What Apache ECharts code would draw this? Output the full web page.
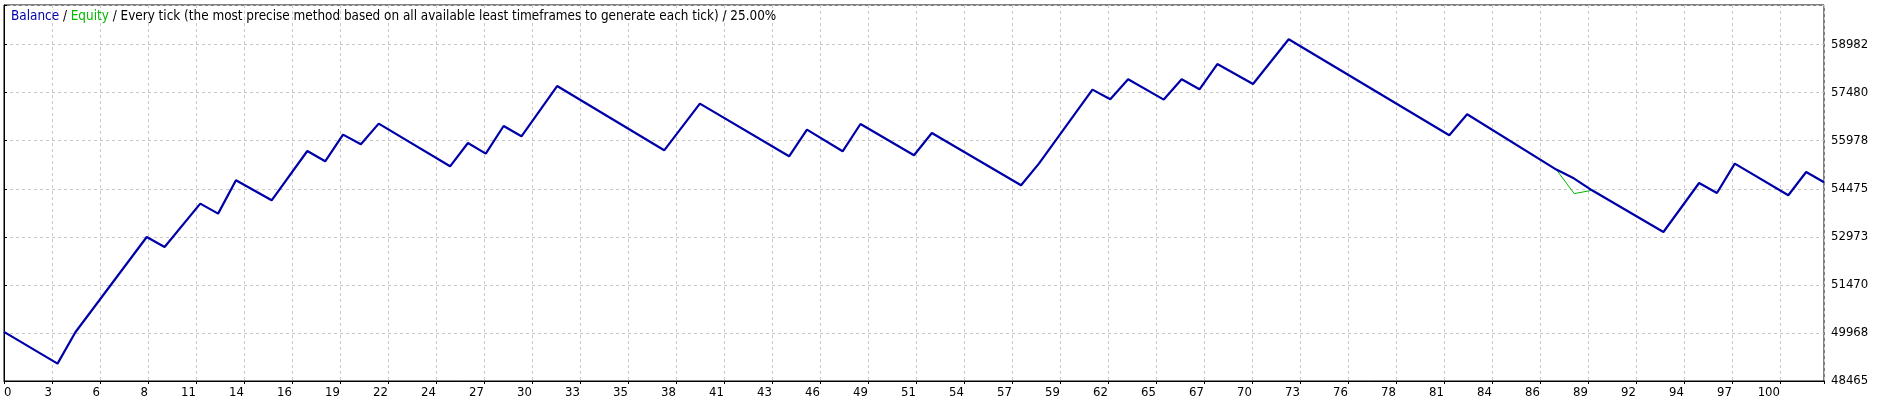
<!DOCTYPE html>
<html>
<head>
<meta charset="utf-8">
<script src="https://cdn.jsdelivr.net/npm/echarts@6/dist/echarts.min.js"></script>
<style>
html, body { margin: 0; padding: 0; background: #ffffff; }
#chart { width: 1889px; height: 404px; }
</style>
</head>
<body>
<div id="chart"></div>
<script>
// ---- data ----
const trades = [0, 3, 4, 8, 9, 11, 12, 13, 15, 17, 18, 19, 20, 21, 25, 26, 27, 28, 29, 31,
  37, 39, 44, 45, 47, 48, 51, 52, 57, 58, 61, 62, 63, 65, 66, 67, 68, 70, 72, 81,
  82, 87, 88, 89, 93, 95, 96, 97, 100, 101, 102];

const balance = [50000, 49009, 49990, 52967, 52654, 54011, 53698, 54740, 54114, 55656,
  55334, 56168, 55865, 56512, 55177, 55906, 55574, 56437, 56115, 57687,
  55677, 57137, 55490, 56324, 55646, 56500, 55521, 56218, 54583, 55262,
  57575, 57272, 57897, 57263, 57897, 57584, 58375, 57750, 59148, 56146,
  56803, 55074, 54793, 54427, 53123, 54655, 54343, 55262, 54271, 54999, 54677];

const equity = [50000, 49009, 49990, 52967, 52654, 54011, 53698, 54740, 54114, 55656,
  55334, 56168, 55865, 56512, 55177, 55906, 55574, 56437, 56115, 57687,
  55677, 57137, 55490, 56324, 55646, 56500, 55521, 56218, 54583, 55262,
  57575, 57272, 57897, 57263, 57897, 57584, 58375, 57750, 59148, 56146,
  56803, 55074, 54324, 54427, 53123, 54655, 54343, 55262, 54271, 54999, 54677];

const xTickLabels = ['0', '3', '6', '8', '11', '14', '16', '19', '22', '24', '27', '30', '33',
  '35', '38', '41', '43', '46', '49', '51', '54', '57', '59', '62', '65', '67', '70', '73',
  '76', '78', '81', '84', '86', '89', '92', '94', '97', '100'];

const yTickLabels = ['48465', '49968', '51470', '52973', '54475', '55978', '57480', '58982'];

const titleParts = {
  balance: 'Balance',
  equity: 'Equity',
  rest: ' / Every tick (the most precise method based on all available least timeframes to generate each tick) / 25.00%'
};

// ---- axis scale settings ----
const X_MIN = 0;
const X_MAX = 102;
const X_STEP = 2.6901;
const Y_BASE = 48465.3;   // value at the bottom of the plot
const Y_STEP = 1502.45;
const Y_TOP = 60220;      // value at the top of the plot

const FONT = "'DejaVu Sans Condensed', 'DejaVu Sans', 'Liberation Sans', sans-serif";
const BAL_COLOR = '#0000A8';
const EQ_COLOR = '#00B800';

function tickFormatter(labels, step, base) {
  return function (v) {
    const idx = Math.round((v - base) / step);
    if (Math.abs((v - base) - idx * step) > step * 0.01) return '';
    if (idx < 0 || idx >= labels.length) return '';
    return labels[idx];
  };
}

const chart = echarts.init(document.getElementById('chart'), null, { renderer: 'canvas' });

chart.setOption({
  animation: false,
  backgroundColor: '#ffffff',
  title: {
    left: 11,
    top: 10,
    padding: 0,
    text: '{b|' + titleParts.balance + '} / {e|' + titleParts.equity + '}' + titleParts.rest,
    textStyle: {
      fontFamily: FONT,
      fontSize: 13.4,
      fontWeight: 'normal',
      color: '#000000',
      rich: {
        b: { color: BAL_COLOR, fontFamily: FONT, fontSize: 13.4 },
        e: { color: EQ_COLOR, fontFamily: FONT, fontSize: 13.4 }
      }
    }
  },
  grid: {
    left: 4, right: 65, top: 5, bottom: 23,
    show: true,
    borderColor: '#000000',
    borderWidth: 1,
    backgroundColor: '#ffffff'
  },
  xAxis: {
    type: 'value',
    min: X_MIN,
    max: X_MAX,
    interval: X_STEP,
    axisLine: { show: true, lineStyle: { color: '#000000', width: 1 } },
    axisTick: { show: true, length: 3, lineStyle: { color: '#000000' } },
    axisLabel: {
      show: true,
      margin: 5,
      align: 'right',
      alignMinLabel: 'left',
      color: '#000000',
      fontFamily: FONT,
      fontSize: 13,
      formatter: tickFormatter(xTickLabels, X_STEP, X_MIN)
    },
    splitLine: { show: true, lineStyle: { color: '#c8c8c8', width: 1, type: [3, 3] } }
  },
  yAxis: {
    type: 'value',
    position: 'right',
    min: 0,
    max: Y_TOP - Y_BASE,
    interval: Y_STEP,
    axisLine: { show: true, lineStyle: { color: '#000000', width: 1 } },
    axisTick: { show: true, length: 3, lineStyle: { color: '#000000' } },
    axisLabel: {
      show: true,
      margin: 7,
      color: '#000000',
      fontFamily: FONT,
      fontSize: 13,
      formatter: tickFormatter(yTickLabels, Y_STEP, 0)
    },
    splitLine: { show: true, lineStyle: { color: '#c8c8c8', width: 1, type: [3, 3] } }
  },
  series: [
    {
      name: 'Equity',
      type: 'line',
      data: trades.map((t, i) => [t, equity[i] - Y_BASE]),
      symbol: 'none',
      silent: true,
      z: 2,
      lineStyle: { color: EQ_COLOR, width: 1 }
    },
    {
      name: 'Balance',
      type: 'line',
      data: trades.map((t, i) => [t, balance[i] - Y_BASE]),
      symbol: 'none',
      silent: true,
      z: 3,
      lineStyle: { color: BAL_COLOR, width: 2.2 }
    }
  ]
});
</script>
</body>
</html>
